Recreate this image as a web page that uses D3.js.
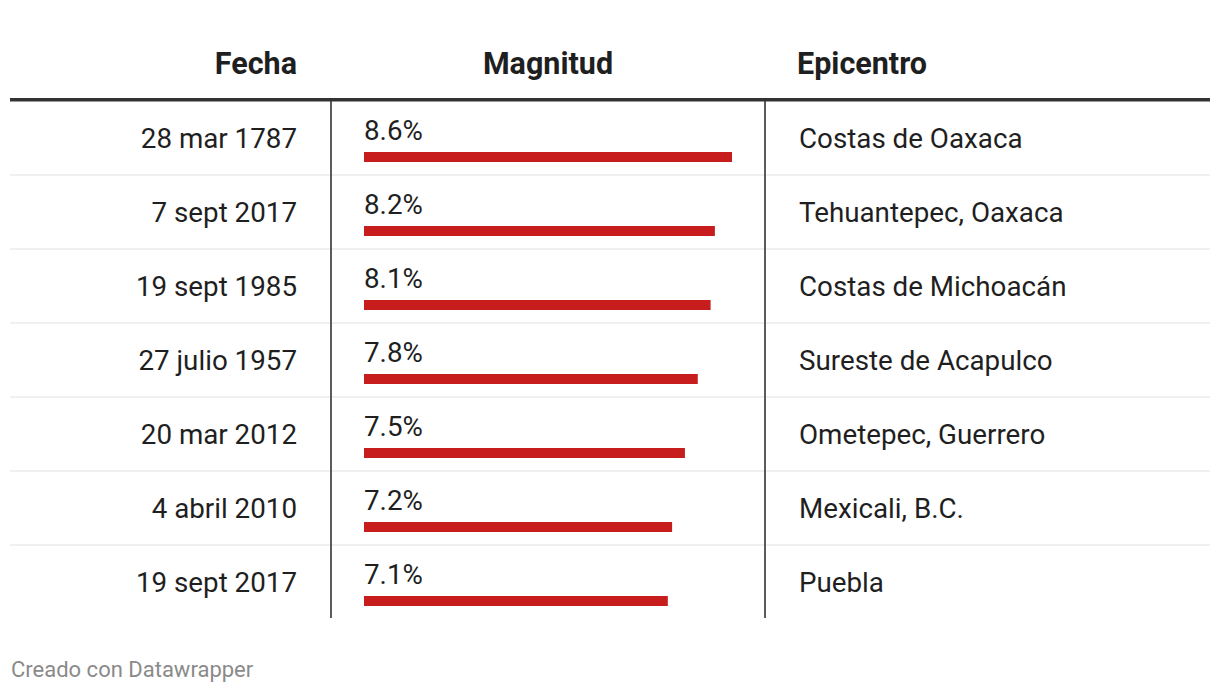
<!DOCTYPE html>
<html>
<head>
<meta charset="utf-8">
<script src="https://cdn.jsdelivr.net/npm/d3@7"></script>
<style>
  html, body { margin: 0; padding: 0; background: #fff; }
  svg { display: block; font-family: Roboto, "Noto Sans", sans-serif; }
</style>
</head>
<body>
<svg id="chart" width="1220" height="694"></svg>
<script>
const headers = ["Fecha", "Magnitud", "Epicentro"];
const fechas = ["28 mar 1787", "7 sept 2017", "19 sept 1985", "27 julio 1957", "20 mar 2012", "4 abril 2010", "19 sept 2017"];
const magnitudes = [8.6, 8.2, 8.1, 7.8, 7.5, 7.2, 7.1];
const epicentros = ["Costas de Oaxaca", "Tehuantepec, Oaxaca", "Costas de Michoacán", "Sureste de Acapulco", "Ometepec, Guerrero", "Mexicali, B.C.", "Puebla"];
const footer = "Creado con Datawrapper";

const rows = fechas.map((f, i) => ({ fecha: f, mag: magnitudes[i], epi: epicentros[i], i }));

const svg = d3.select("#chart");
const left = 10, right = 1210;
const col1 = 331, col2 = 765;
const tableTop = 101, tableBottom = 619;

const y = d3.scaleBand().domain(d3.range(rows.length)).range([tableTop, tableBottom]).paddingInner(0);
const x = d3.scaleLinear().domain([0, d3.max(magnitudes)]).range([364, 732]);

const textColor = "#1f1f1f";
const headSize = 30.5, bodySize = 27.75;

// header
svg.append("text").attr("x", 297).attr("y", 74).attr("text-anchor", "end")
  .attr("font-size", headSize).attr("font-weight", 700).attr("fill", textColor).text(headers[0]);
svg.append("text").attr("x", (col1 + col2) / 2).attr("y", 74).attr("text-anchor", "middle")
  .attr("font-size", headSize).attr("font-weight", 700).attr("fill", textColor).text(headers[1]);
svg.append("text").attr("x", 797).attr("y", 74).attr("text-anchor", "start")
  .attr("font-size", headSize).attr("font-weight", 700).attr("fill", textColor).text(headers[2]);

// row separators
svg.selectAll("line.sep").data(rows.slice(1)).join("line")
  .attr("class", "sep")
  .attr("x1", left).attr("x2", right)
  .attr("y1", d => y(d.i)).attr("y2", d => y(d.i))
  .attr("stroke", "#ebebeb").attr("stroke-width", 1.5);

// vertical lines
[col1, col2].forEach(cx => {
  svg.append("line").attr("x1", cx).attr("x2", cx)
    .attr("y1", tableTop).attr("y2", tableBottom - 1)
    .attr("stroke", "#333").attr("stroke-width", 1.6);
});

// thick header line
svg.append("rect").attr("x", left).attr("y", 98).attr("width", right - left).attr("height", 3.5).attr("fill", "#333");

const g = svg.selectAll("g.row").data(rows).join("g").attr("class", "row")
  .attr("transform", d => `translate(0,${y(d.i)})`);

g.append("text").attr("x", 297).attr("y", 47).attr("text-anchor", "end")
  .attr("font-size", bodySize).attr("fill", textColor).text(d => d.fecha);

g.append("text").attr("x", x(0)).attr("y", 39)
  .attr("font-size", bodySize).attr("fill", textColor).text(d => d.mag.toFixed(1) + "%");

g.append("rect").attr("x", x(0)).attr("y", 51)
  .attr("width", d => x(d.mag) - x(0)).attr("height", 10).attr("fill", "#c71e1d");

g.append("text").attr("x", 799).attr("y", 47)
  .attr("font-size", bodySize).attr("fill", textColor).text(d => d.epi);

// footer
svg.append("text").attr("x", 11).attr("y", 677).attr("font-size", 22).attr("fill", "#8a8a8a").text(footer);
</script>
</body>
</html>
